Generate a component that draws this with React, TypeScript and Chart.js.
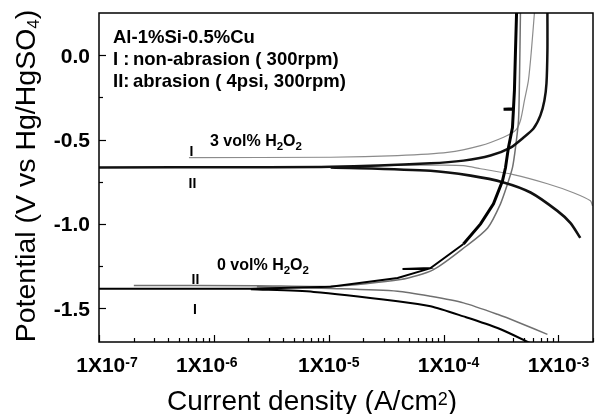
import React, { useEffect, useRef } from "react";
import { Chart, registerables } from "chart.js";

Chart.register(...registerables);

// ---------- data (current density in A/cm2, potential in V vs Hg/HgSO4) ----------
// 3 vol% H2O2, curve I (grey)
const i3_I_an = [6.07e-7, 1.04e-5, 3.98e-5, 1.08e-4, 2.1e-4, 3.33e-4, 4.23e-4, 4.67e-4, 5.06e-4, 5.48e-4, 5.82e-4, 6.18e-4];
const E3_I_an = [-0.607, -0.605, -0.595, -0.576, -0.536, -0.486, -0.446, -0.387, -0.268, -0.149, 0.03, 0.25];
const i3_I_ca = [1.27e-5, 4.23e-5, 9.42e-5, 1.49e-4, 2.1e-4, 4.06e-4, 8.02e-4, 1.35e-3, 1.9e-3, 1.98e-3];
const E3_I_ca = [-0.664, -0.652, -0.652, -0.655, -0.673, -0.708, -0.762, -0.815, -0.863, -0.893];

// 3 vol% H2O2, curve II (black)
const i3_II_an = [1e-7, 2.1e-6, 1.04e-5, 7.71e-5, 1.49e-4, 2.56e-4, 3.83e-4, 4.97e-4, 6.07e-4, 6.97e-4, 7.55e-4, 7.87e-4, 8.02e-4, 8.02e-4];
const E3_II_an = [-0.665, -0.664, -0.662, -0.641, -0.625, -0.595, -0.548, -0.488, -0.435, -0.357, -0.268, -0.167, 0.03, 0.25];
const i3_II_ca = [1.04e-5, 7.71e-5, 1.72e-4, 3.33e-4, 5.72e-4, 9.79e-4, 1.27e-3, 1.55e-3];
const E3_II_ca = [-0.665, -0.685, -0.714, -0.754, -0.814, -0.923, -0.994, -1.083];

// 0 vol% H2O2, curve I (black, noisy)
const i0_I_an = [1e-7, 2.1e-6, 1.04e-5, 3.98e-5, 7.26e-5, 4.39e-5, 7.71e-5, 1.49e-4, 2.1e-4, 2.72e-4, 3.26e-4, 3.46e-4, 3.67e-4, 3.98e-4, 4.06e-4, 3.33e-4, 4.06e-4, 4.14e-4, 4.23e-4, 4.32e-4];
const E0_I_an = [-1.385, -1.384, -1.372, -1.321, -1.268, -1.268, -1.262, -1.119, -1.0, -0.881, -0.744, -0.667, -0.548, -0.429, -0.321, -0.321, -0.318, -0.208, 0.03, 0.25];
const i0_I_ca = [2.1e-6, 7.41e-6, 3.98e-5, 7.71e-5, 1.49e-4, 2.95e-4, 5.72e-4, 7.71e-4];
const E0_I_ca = [-1.387, -1.403, -1.458, -1.488, -1.548, -1.617, -1.708, -1.756];

// 0 vol% H2O2, curve II (grey)
const i0_II_an = [2.01e-7, 2.37e-6, 1.04e-5, 4.23e-5, 8.18e-5, 1.58e-4, 2.42e-4, 3.13e-4, 3.61e-4, 3.98e-4, 4.23e-4, 4.49e-4, 4.58e-4, 4.67e-4];
const E0_II_an = [-1.365, -1.366, -1.37, -1.33, -1.271, -1.131, -1.024, -0.881, -0.762, -0.667, -0.548, -0.387, -0.149, 0.25];
const i0_II_ca = [2.37e-6, 1.04e-5, 3.98e-5, 7.71e-5, 1.49e-4, 2.95e-4, 4.67e-4, 8.02e-4];
const E0_II_ca = [-1.372, -1.383, -1.399, -1.429, -1.468, -1.536, -1.589, -1.655];

// axis ticks
const xTickValues = [1e-7, 1e-6, 1e-5, 1e-4, 1e-3];
const xTickExponents = ["-7", "-6", "-5", "-4", "-3"];
const yTickValues = [0, -0.5, -1.0, -1.5];
const yTickLabels = ["0.0", "-0.5", "-1.0", "-1.5"];
const yMinorValues = [-0.25, -0.75, -1.25];

const X_MIN = 1e-7;
const X_MAX = 2e-3;
const Y_MIN = -1.7;
const Y_MAX = 0.25;

const FONT = '"Liberation Sans", Arial, Helvetica, sans-serif';

const pts = (xs: number[], ys: number[]) => xs.map((v, k) => ({ x: v, y: ys[k] }));

type Part = [string, number, boolean, number];

function rich(ctx: CanvasRenderingContext2D, parts: Part[], x: number, y: number, align: "left" | "center" | "right") {
  const widths = parts.map((p) => {
    ctx.font = `${p[2] ? "bold " : ""}${p[1]}px ${FONT}`;
    return ctx.measureText(p[0]).width;
  });
  const total = widths.reduce((a, b) => a + b, 0);
  let cx = align === "center" ? x - total / 2 : align === "right" ? x - total : x;
  parts.forEach((p, k) => {
    ctx.font = `${p[2] ? "bold " : ""}${p[1]}px ${FONT}`;
    ctx.fillText(p[0], cx, y + p[3]);
    cx += widths[k];
  });
}

const overlay = {
  id: "overlay",
  afterDatasetsDraw(chart: any) {
    const { ctx, chartArea: a } = chart;
    const xs = chart.scales.x;
    const ys = chart.scales.y;
    ctx.save();
    ctx.fillStyle = "#000";
    ctx.strokeStyle = "#000";
    ctx.textAlign = "left";
    ctx.textBaseline = "alphabetic";

    // frame
    ctx.lineWidth = 1.5;
    ctx.strokeRect(a.left, a.top, a.right - a.left, a.bottom - a.top);

    // x ticks (inside)
    ctx.lineWidth = 1.2;
    for (let d = -7; d <= -3; d++) {
      for (let m = 1; m <= 9; m++) {
        const v = m * Math.pow(10, d);
        if (v > X_MAX) break;
        const px = Math.round(xs.getPixelForValue(v)) + 0.5;
        const len = m === 1 ? 7 : 4;
        ctx.beginPath();
        ctx.moveTo(px, a.bottom);
        ctx.lineTo(px, a.bottom - len);
        ctx.stroke();
      }
    }
    // y ticks (inside)
    yTickValues.forEach((v) => {
      const py = Math.round(ys.getPixelForValue(v)) + 0.5;
      ctx.beginPath();
      ctx.moveTo(a.left, py);
      ctx.lineTo(a.left + 7, py);
      ctx.stroke();
    });
    yMinorValues.forEach((v) => {
      const py = Math.round(ys.getPixelForValue(v)) + 0.5;
      ctx.beginPath();
      ctx.moveTo(a.left, py);
      ctx.lineTo(a.left + 4, py);
      ctx.stroke();
    });

    // y tick labels
    yTickValues.forEach((v, k) => {
      const py = ys.getPixelForValue(v);
      rich(ctx, [[yTickLabels[k], 21, true, 0]], a.left - 9, py + 7.5, "right");
    });
    // x tick labels
    const xShift = [8, -7, 0, 5, 0];
    xTickValues.forEach((v, k) => {
      const px = xs.getPixelForValue(v);
      rich(ctx, [["1X10", 21, true, 0], [xTickExponents[k], 14, true, -5]], px + xShift[k], a.bottom + 30, "center");
    });

    // axis titles
    rich(ctx, [["Current density (A/cm", 28, false, 0], ["2", 18, false, -5], [")", 28, false, 0]], 312, 410, "center");
    ctx.save();
    ctx.translate(35, 176);
    ctx.rotate(-Math.PI / 2);
    rich(ctx, [["Potential (V vs Hg/HgSO", 28.5, false, 0], ["4", 17, false, 4], [")", 28.5, false, 0]], 0, 0, "center");
    ctx.restore();

    // annotations
    rich(ctx, [["Al-1%Si-0.5%Cu", 18.5, true, 0]], 113, 43, "left");
    rich(ctx, [["I :", 18.5, true, 0]], 113, 65, "left");
    rich(ctx, [["non-abrasion ( 300rpm)", 18.5, true, 0]], 133, 65, "left");
    rich(ctx, [["II:", 18.5, true, 0]], 113, 87, "left");
    rich(ctx, [["abrasion ( 4psi, 300rpm)", 18.5, true, 0]], 133, 87, "left");

    rich(ctx, [["3 vol% H", 16, true, 0], ["2", 11.5, true, 4], ["O", 16, true, 0], ["2", 11.5, true, 4]], 210, 146, "left");
    rich(ctx, [["0 vol% H", 16, true, 0], ["2", 11.5, true, 4], ["O", 16, true, 0], ["2", 11.5, true, 4]], 217, 269.5, "left");

    rich(ctx, [["I", 14, true, 0]], 191.5, 156, "center");
    rich(ctx, [["II", 14, true, 0]], 192.5, 187.5, "center");
    rich(ctx, [["II", 14, true, 0]], 195.5, 283.5, "center");
    rich(ctx, [["I", 14, true, 0]], 195, 313.5, "center");

    ctx.restore();
  },
};

export default function App() {
  const ref = useRef<HTMLCanvasElement | null>(null);
  useEffect(() => {
    if (!ref.current) return;
    const base = { pointRadius: 0, fill: false, tension: 0.25 };
    const chart = new Chart(ref.current, {
      type: "line",
      data: {
        datasets: [
          { ...base, data: pts(i0_I_an, E0_I_an), borderColor: "#000", borderWidth: 2, tension: 0,
            segment: { borderWidth: (c: any) => (c.p0.parsed.y > -1.15 ? 3 : 2) } },
          { ...base, data: pts(i0_I_ca, E0_I_ca), borderColor: "#000", borderWidth: 2 },
          { ...base, data: pts(i3_II_an, E3_II_an), borderColor: "#111", borderWidth: 2.5 },
          { ...base, data: pts(i3_II_ca, E3_II_ca), borderColor: "#111", borderWidth: 2.6 },
          { ...base, data: pts(i0_II_an, E0_II_an), borderColor: "#707070", borderWidth: 1.5 },
          { ...base, data: pts(i0_II_ca, E0_II_ca), borderColor: "#707070", borderWidth: 1.5 },
          { ...base, data: pts(i3_I_an, E3_I_an), borderColor: "#8c8c8c", borderWidth: 1.2 },
          { ...base, data: pts(i3_I_ca, E3_I_ca), borderColor: "#8c8c8c", borderWidth: 1.2 },
        ] as any,
      },
      options: {
        animation: false,
        responsive: false,
        devicePixelRatio: 1,
        layout: { padding: { left: 99, top: 13, right: 3, bottom: 72 } },
        plugins: { legend: { display: false }, tooltip: { enabled: false } },
        scales: {
          x: { type: "logarithmic", min: X_MIN, max: X_MAX, display: false },
          y: { type: "linear", min: Y_MIN, max: Y_MAX, display: false },
        },
      } as any,
      plugins: [overlay],
    });
    return () => chart.destroy();
  }, []);
  return (
    <div style={{ position: "fixed", left: 0, top: 0, width: 596, height: 414, background: "#fff" }}>
      <canvas ref={ref} width={596} height={414} style={{ display: "block" }} />
    </div>
  );
}
